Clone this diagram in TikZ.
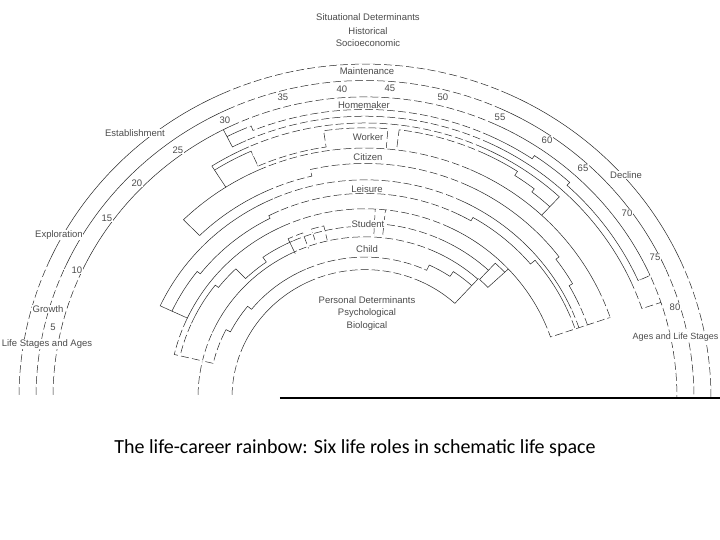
\documentclass[tikz,border=0pt]{standalone}
\usepackage{fontspec}
\setmainfont{Liberation Sans}
\newfontfamily\capfont{Carlito}
\newcommand\myarc[3]{(#2:#1) arc[start angle=#2,end angle=#3,radius=#1]}
\newcommand\toarc[3]{-- (#2:#1) arc[start angle=#2,end angle=#3,radius=#1]}
\newcommand\rainbowgeom{%
  % life stages and ages
  \draw[ln] \myarc{346}{180}{0};
  \draw[ln] \myarc{329}{180}{0};
  \draw[ln] \myarc{312}{180}{0};
  % Homemaker
  \draw[ln] (117:312) \toarc{292}{117}{18.5} -- (18.5:312);
  \draw[ln] \myarc{304}{117}{112} \toarc{299}{112}{56} \toarc{303}{56}{47.5} \toarc{299}{47.5}{24} -- (24:312);
  % Worker
  \draw[ln] (122.5:259) -- (122.5:285) arc[start angle=122.5,end angle=47,radius=285] -- (47:259);
  \draw[ln] \myarc{280}{122.5}{114} \toarc{263}{114}{98.5} \toarc{280}{98.5}{85.3} -- (85.3:259);
  \draw[ln] (83:259) \toarc{280}{83}{57} \toarc{275}{57}{52} \toarc{271}{52}{47};
  % Citizen
  \draw[ln] (134.5:236) -- (134.5:259) arc[start angle=134.5,end angle=18.8,radius=259];
  \draw[ln] \myarc{236}{134.5}{103} \toarc{243}{103}{37} \toarc{239}{37}{29.7} \toarc{235}{29.7}{18.8};
  % Leisure
  \draw[ln] (155:196) -- (155:226) arc[start angle=155,end angle=18.8,radius=226];
  \draw[ln] \myarc{196}{155}{18.8} -- (18.8:259);
  \draw[ln] \myarc{213}{155}{142} \toarc{209}{142}{117} \toarc{212}{117}{60} \toarc{216}{60}{40} \toarc{222}{40}{18.8};
  % Student
  \draw[ln] (166.7:167) -- (166.7:196) arc[start angle=166.7,end angle=155,radius=196];
  \draw[ln] (43:168) -- (43:196);
  \draw[ln] (47:168) -- (47:191) arc[start angle=47,end angle=43,radius=191];
  \draw[ln] (43:168) arc[start angle=43,end angle=47,radius=168];
  \draw[ln] \myarc{190}{166.7}{142} \toarc{186}{142}{134} \toarc{172}{134}{125} \toarc{178}{125}{87};
  \draw[ln] (87:167) -- (87:196);
  \draw[ln] (84:167) -- (84:196);
  \draw[ln] \myarc{181}{84}{47};
  \draw[ln] (115:165) -- (115:182) arc[start angle=115,end angle=110,radius=182] -- (110:165);
  \draw[ln] (107:168) -- (107:183) arc[start angle=107,end angle=103,radius=183] -- (103:168);
  % Child
  \draw[ln] \myarc{167}{180}{47.5};
  \draw[ln] \myarc{133}{180}{47.5} -- (47.5:168);
  \draw[ln] (166.7:167) \toarc{156}{166.7}{153} \toarc{151}{153}{141} \toarc{146}{141}{65} \toarc{152}{65}{56} \toarc{158}{56}{47.5};
}
\begin{document}
\begin{tikzpicture}[x=1pt,y=1pt,
  ln/.style={line width=0.5pt, black!85},
  base/.style={line width=1.1pt, black},
  lbl/.style={font=\fontsize{9.5}{10}\selectfont, text=black!70, fill=white, inner sep=0.5pt},
  captiontext/.style={font=\capfont\fontsize{20}{24}\selectfont, text=black}]
\useasboundingbox (-365,-142) rectangle (355,398);
\fill[white] (-365,-142) rectangle (355,398);
\clip (-365,-142) rectangle (355,398);
\begin{scope}[yscale=0.965]
  \rainbowgeom
\end{scope}
% gaps that make the near-horizontal and near-vertical parts look dashed
\begin{scope}[yscale=0.965]
  \clip (0,0) -- (66:420) -- (114:420) -- cycle
        (0,0) -- (0:420) -- (24:420) -- cycle
        (0,0) -- (156:420) -- (180:420) -- cycle;
  \tikzset{ln/.style={white, line width=1.6pt, dash pattern=on 3pt off 8pt}}
  \rainbowgeom
\end{scope}
\draw[base] (-85,0) coordinate (bl) -- (355,0) coordinate (br);
% texts
\node[lbl] (t1) at (3,381) {Situational Determinants};
\node[lbl] (t2) at (3,367) {Historical};
\node[lbl] (t3) at (3,355) {Socioeconomic};
\node[lbl] (t4) at (2,327) {Maintenance};
\node[lbl] (a40) at (-23,309) {40};
\node[lbl] (a45) at (25,310) {45};
\node[lbl] (a35) at (-82,301) {35};
\node[lbl] (a50) at (78,301) {50};
\node[lbl] (rh) at (-1,293) {Homemaker};
\node[lbl] (a55) at (135,281) {55};
\node[lbl] (a30) at (-140,278) {30};
\node[lbl] (est) at (-230,265) {Establishment};
\node[lbl] (a60) at (182,258) {60};
\node[lbl] (rw) at (3,261) {Worker};
\node[lbl] (a25) at (-187,248) {25};
\node[lbl] (rc) at (3,241) {Citizen};
\node[lbl] (a65) at (218,230) {65};
\node[lbl] (dec) at (261,223) {Decline};
\node[lbl] (a20) at (-228,215) {20};
\node[lbl] (rl) at (2,209) {Leisure};
\node[lbl] (a70) at (262,185) {70};
\node[lbl] (a15) at (-258,180) {15};
\node[lbl] (rs) at (3,174) {Student};
\node[lbl] (exp) at (-306,163) {Exploration};
\node[lbl] (rch) at (2,149) {Child};
\node[lbl] (a75) at (290,141) {75};
\node[lbl] (a10) at (-288,128) {10};
\node[lbl] (p1) at (2,98) {Personal Determinants};
\node[lbl] (p2) at (2,85) {Psychological};
\node[lbl] (p3) at (2,72) {Biological};
\node[lbl] (a80) at (310,91) {80};
\node[lbl] (gr) at (-317,89) {Growth};
\node[lbl] (a5) at (-312,71) {5};
\node[lbl] (lsa) at (-318,54) {Life Stages and Ages};
\node[lbl, anchor=east, font=\fontsize{9}{10}\selectfont] (als) at (354,61) {Ages and Life Stages};
\node[captiontext] (capt) at (-10,-50) {The life-career rainbow: Six life roles in schematic life space};
\end{tikzpicture}
\end{document}
